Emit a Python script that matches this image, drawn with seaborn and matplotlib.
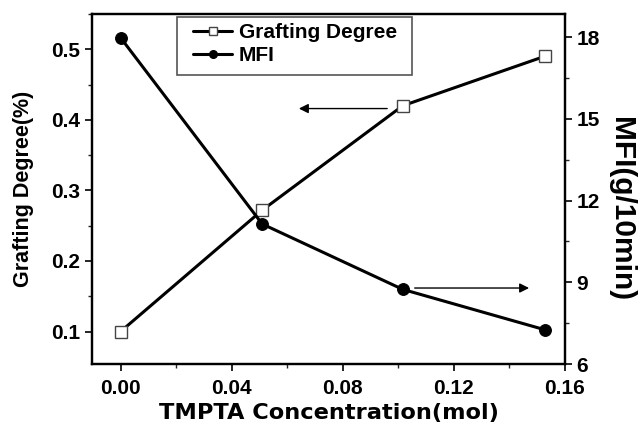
import matplotlib
matplotlib.use("Agg")
import matplotlib.pyplot as plt
from matplotlib.ticker import MultipleLocator
from matplotlib.lines import Line2D
from matplotlib.patches import Rectangle
import seaborn as sns
import pandas as pd

sns.set_theme(style="ticks")
plt.rcParams['font.family'] = ['Liberation Sans', 'DejaVu Sans']
plt.rcParams['font.weight'] = 'bold'
plt.rcParams['text.color'] = 'black'
plt.rcParams['axes.labelcolor'] = 'black'

conc = [0.0, 0.0510, 0.1016, 0.1527]
grafting = [0.10, 0.272, 0.420, 0.490]
mfi = [17.98, 11.14, 8.74, 7.26]

x_ticks = [0.00, 0.04, 0.08, 0.12, 0.16]
left_ticks = [0.1, 0.2, 0.3, 0.4, 0.5]
right_ticks = [6, 9, 12, 15, 18]

df = pd.DataFrame({"conc": conc, "grafting": grafting, "mfi": mfi})

fig = plt.figure(figsize=(6.4, 4.28), dpi=100)
ax = fig.add_axes([0.1437, 0.1495, 0.739, 0.8178])
ax2 = ax.twinx()

sns.lineplot(data=df, x="conc", y="grafting", ax=ax, color="black", lw=2.2,
             marker="s", markersize=8.5, markerfacecolor="white",
             markeredgecolor="#444444", markeredgewidth=1.0)
sns.lineplot(data=df, x="conc", y="mfi", ax=ax2, color="black", lw=2.2,
             marker="o", markersize=8.5, markerfacecolor="black",
             markeredgecolor="black")

ax.set_xlim(-0.0103, 0.16)
ax.set_ylim(0.054, 0.55)
ax2.set_ylim(6, 18.85)

ax.set_xticks(x_ticks)
ax.set_xticklabels([f"{v:.2f}" for v in x_ticks])
ax.set_yticks(left_ticks)
ax.set_yticklabels([f"{v:.1f}" for v in left_ticks])
ax2.set_yticks(right_ticks)
ax2.set_yticklabels([str(v) for v in right_ticks])
ax.xaxis.set_minor_locator(MultipleLocator(0.02))
ax.yaxis.set_minor_locator(MultipleLocator(0.05))
ax2.yaxis.set_minor_locator(MultipleLocator(1.5))

for a in (ax, ax2):
    for s in a.spines.values():
        s.set_linewidth(1.6)
        s.set_color("black")
    a.tick_params(which="major", length=5, width=1.2, direction="out",
                  labelsize=15, colors="black", pad=3.5)
    a.tick_params(which="minor", length=3, width=1.0, direction="out")
    for lab in a.get_xticklabels() + a.get_yticklabels():
        lab.set_fontweight("bold")
ax.tick_params(axis="x", which="major", pad=6)

ax.set_xlabel("TMPTA Concentration(mol)", fontsize=16.2, fontweight="bold",
              family=["DejaVu Sans"], labelpad=3.5)
ax.set_ylabel("Grafting Degree(%)", fontsize=15.5, fontweight="bold", labelpad=12)
ax2.set_ylabel("MFI(g/10min)", fontsize=21.5, fontweight="bold", rotation=270,
               labelpad=25)
ax2.yaxis.label.set_y(0.444)

# arrows
ax.annotate("", xy=(0.0632, 0.416), xytext=(0.0970, 0.416),
            arrowprops=dict(arrowstyle="-|>", color="black", lw=1.0,
                            mutation_scale=14))
ax2.annotate("", xy=(0.1481, 8.79), xytext=(0.1049, 8.79),
             arrowprops=dict(arrowstyle="-|>", color="black", lw=1.0,
                             mutation_scale=14))

handles = [
    Line2D([], [], color="black", lw=2.2, marker="s", markersize=5.5,
           markerfacecolor="white", markeredgecolor="#444444", markeredgewidth=1.0),
    Line2D([], [], color="black", lw=2.2, marker="o", markersize=5.5,
           markerfacecolor="black"),
]
leg = ax.legend(handles, ["Grafting Degree", "MFI"], loc="upper left",
                bbox_to_anchor=(0.198, 0.995), frameon=False,
                fontsize=15, handlelength=1.9,
                handletextpad=0.3, borderpad=0.35, labelspacing=0.2,
                borderaxespad=0)
for t in leg.get_texts():
    t.set_fontweight("bold")

# legend frame box
fig.patches.append(Rectangle((177 / 640, 1 - 75 / 428), 235 / 640, 58 / 428,
                             transform=fig.transFigure, fill=False,
                             edgecolor="#555555", lw=1.2, zorder=5))

fig.savefig("out.png", dpi=100)
